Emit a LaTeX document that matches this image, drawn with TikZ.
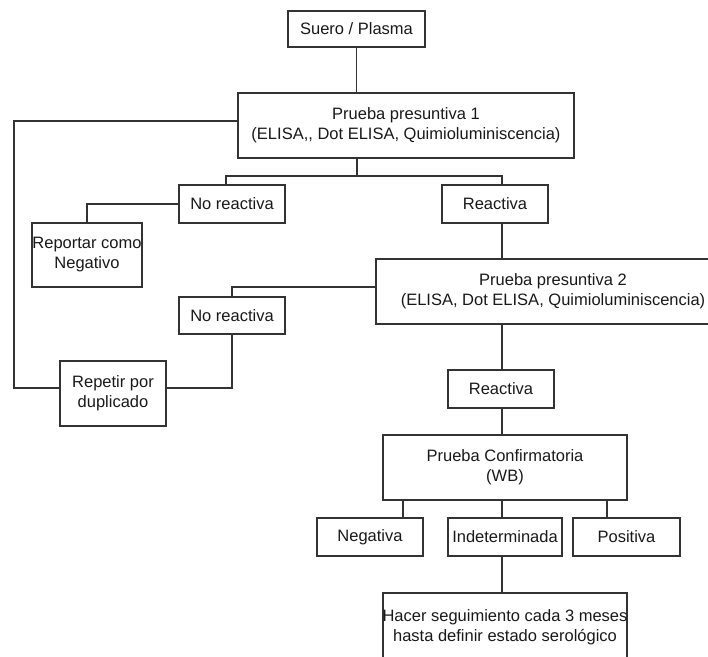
\documentclass[tikz,border=0pt]{standalone}
\usepackage{fontspec}
\setmainfont{Liberation Sans}
\usepackage{tikz}

\begin{document}
\begin{tikzpicture}[x=1pt, y=-1pt,
	boxnode/.style={rectangle, draw=black!80, line width=1.9pt, inner sep=0pt, align=center, text=black!90, font=\fontsize{16.5}{20}\selectfont},
	link/.style={draw=black!80, line width=1.9pt}]
		\useasboundingbox (0,0) rectangle (708,656);

		\node[boxnode, minimum width=137pt, minimum height=36pt]	(suero) at (356.5,29)	{Suero / Plasma};
		\node[boxnode, minimum width=336pt, minimum height=65pt]	(pp1) at (406,125.5)	{Prueba presuntiva 1\\(ELISA,{}, Dot ELISA, Quimioluminiscencia)};
		\node[boxnode, minimum width=106pt, minimum height=38pt]	(noreac1) at (232,204)	{No reactiva};
		\node[boxnode, minimum width=106pt, minimum height=38pt]	(reac1) at (495,204)	{Reactiva};
		\node[boxnode, minimum width=106pt, minimum height=64pt]	(reportar) at (87,255)	{Reportar como\\Negativo};
		\node[boxnode, minimum width=354pt, minimum height=65pt]	(pp2) at (553,291.5)	{Prueba presuntiva 2\\(ELISA, Dot ELISA, Quimioluminiscencia)};
		\node[boxnode, minimum width=106pt, minimum height=37pt]	(noreac2) at (232,315.5)	{No reactiva};
		\node[boxnode, minimum width=106pt, minimum height=65pt]	(repetir) at (113,393.5)	{Repetir por\\duplicado};
		\node[boxnode, minimum width=106pt, minimum height=38pt]	(reac2) at (501,389)	{Reactiva};
		\node[boxnode, minimum width=244pt, minimum height=65pt]	(pc) at (505,467.5)	{Prueba Confirmatoria\\(WB)};
		\node[boxnode, minimum width=106pt, minimum height=38pt]	(neg) at (370,537)	{Negativa};
		\node[boxnode, minimum width=114pt, minimum height=38pt]	(indet) at (505,537)	{Indeterminada};
		\node[boxnode, minimum width=107pt, minimum height=38pt]	(pos) at (626.5,537)	{Positiva};
		\node[boxnode, minimum width=244pt, minimum height=68pt]	(hacer) at (505,627)	{Hacer seguimiento cada 3 meses\\hasta definir estado serológico};

		\coordinate (j1) at (357,176);
		\coordinate (b1) at (226,176);
		\coordinate (b2) at (502,176);
		\coordinate (l1) at (14,121);
		\coordinate (l2) at (14,388);
		\coordinate (c2) at (232,287);

		\draw[link] (suero.south) -- (suero.south |- pp1.north);
		\draw[link] (pp1.south -| j1) -- (j1);
		\draw[link] (b1 |- noreac1.north) -- (b1) -- (b2) -- (b2 |- reac1.north);
		\draw[link] (pp1.west |- l1) -- (l1) -- (l2) -- (l2 -| repetir.west);
		\draw[link] (noreac1.west) -| (reportar.north);
		\draw[link] (b2 |- reac1.south) -- (b2 |- pp2.north);
		\draw[link] (pp2.west |- c2) -| (noreac2.north);
		\draw[link] (noreac2.south) |- (l2 -| repetir.east);
		\draw[link] (b2 |- pp2.south) -- (b2 |- reac2.north);
		\draw[link] (b2 |- reac2.south) -- (b2 |- pc.north);
		\draw[link] ([xshift=33pt]neg.north) -- ([xshift=33pt]neg.north |- pc.south);
		\draw[link] (b2 |- pc.south) -- (b2 |- indet.north);
		\draw[link] ([xshift=-19.5pt]pos.north) -- ([xshift=-19.5pt]pos.north |- pc.south);
		\draw[link] (b2 |- indet.south) -- (b2 |- hacer.north);

		\end{tikzpicture}
\end{document}
